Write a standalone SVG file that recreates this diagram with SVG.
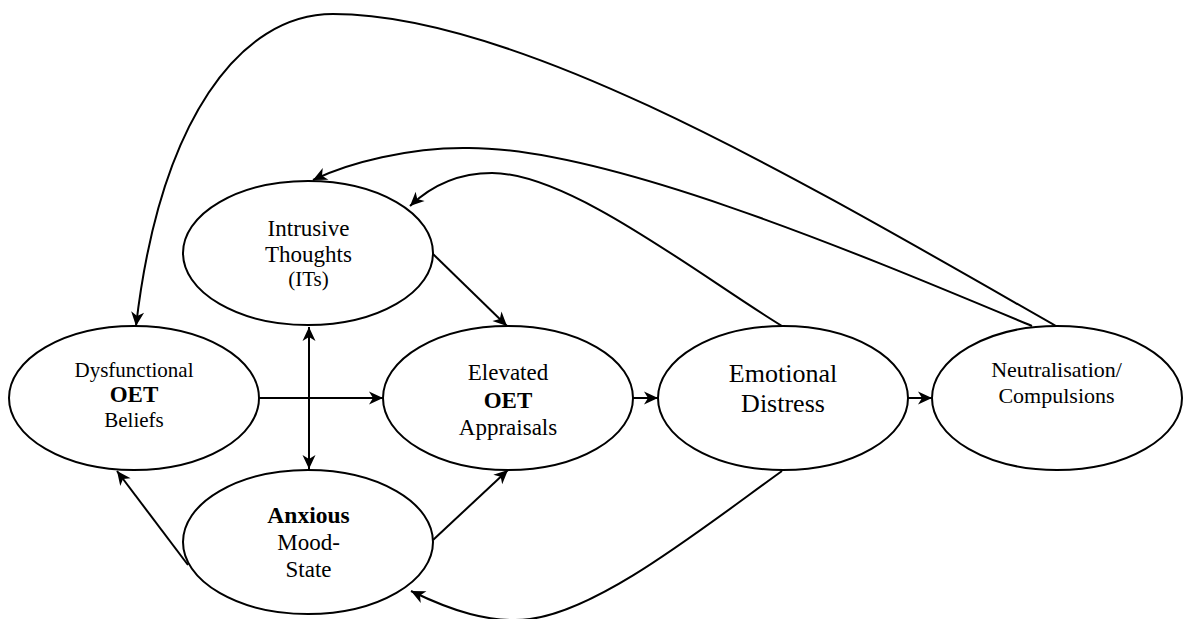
<svg xmlns="http://www.w3.org/2000/svg" width="1191" height="619" viewBox="0 0 1191 619">
<style>
.n{fill:#fff;stroke:#000;stroke-width:2}
.c{fill:none;stroke:#000;stroke-width:2}
.t{font-family:'Liberation Serif','Times New Roman',serif;fill:#000;text-anchor:middle}
.b{font-weight:bold}
</style>
<defs>
<marker id="ah" markerUnits="userSpaceOnUse" viewBox="-15 -8 16 16" refX="0" refY="0" markerWidth="16" markerHeight="16" orient="auto-start-reverse">
<path d="M0,0 L-14,-6.5 L-10,0 L-14,6.5 z" fill="#000"/>
</marker>
</defs>
<rect width="1191" height="619" fill="#fff"/>
<g id="connectors">
<path class="c" d="M258,398 L383,398" marker-end="url(#ah)"/>
<path class="c" d="M633,398 L658,398" marker-end="url(#ah)"/>
<path class="c" d="M907,398 L932,398" marker-end="url(#ah)"/>
<path class="c" d="M309,327 L309,469" marker-start="url(#ah)" marker-end="url(#ah)"/>
<path class="c" d="M433,254 L507,326" marker-end="url(#ah)"/>
<path class="c" d="M433,540 L508,470" marker-end="url(#ah)"/>
<path class="c" d="M188,565 L117,471" marker-end="url(#ah)"/>
<path class="c" d="M782,471 C700,530 600,610 530,619 C490,624 450,610 411,591" marker-end="url(#ah)"/>
<path class="c" d="M782,326 C700,276 570,173 492,173 C460,173 432,185 410,206" marker-end="url(#ah)"/>
<path class="c" d="M1032,326 C850,250 600,145 463,148 C410,148 350,162 313,180" marker-end="url(#ah)"/>
<path class="c" d="M1056,326 C800,180 520,14 333,14 C240,14 160,120 136,326" marker-end="url(#ah)"/>
</g>
<g id="dysfunctional" class="t">
<ellipse class="n" cx="134" cy="398" rx="125" ry="72"/>
<text x="134" y="377" font-size="21">Dysfunctional</text>
<text x="134" y="402" font-size="23" class="b">OET</text>
<text x="134" y="427" font-size="21">Beliefs</text>
</g>
<g id="intrusive" class="t">
<ellipse class="n" cx="308" cy="253" rx="125" ry="72"/>
<text x="308.5" y="236" font-size="23">Intrusive</text>
<text x="308.5" y="262" font-size="23">Thoughts</text>
<text x="308.5" y="286" font-size="21">(ITs)</text>
</g>
<g id="anxious" class="t">
<ellipse class="n" cx="308" cy="542" rx="125" ry="72"/>
<text x="308.5" y="523" font-size="23.5" class="b">Anxious</text>
<text x="308.5" y="550" font-size="23">Mood-</text>
<text x="308.5" y="577" font-size="23">State</text>
</g>
<g id="elevated" class="t">
<ellipse class="n" cx="508" cy="398" rx="125" ry="72"/>
<text x="508" y="380" font-size="23">Elevated</text>
<text x="508" y="408" font-size="23" class="b">OET</text>
<text x="508" y="435" font-size="23">Appraisals</text>
</g>
<g id="emotional" class="t">
<ellipse class="n" cx="783" cy="398" rx="125" ry="72"/>
<text x="783" y="382" font-size="26">Emotional</text>
<text x="783" y="412" font-size="26">Distress</text>
</g>
<g id="neutralisation" class="t">
<ellipse class="n" cx="1057" cy="398" rx="125" ry="72"/>
<text x="1056.5" y="377" font-size="22">Neutralisation/</text>
<text x="1056.5" y="403" font-size="22">Compulsions</text>
</g>
</svg>
